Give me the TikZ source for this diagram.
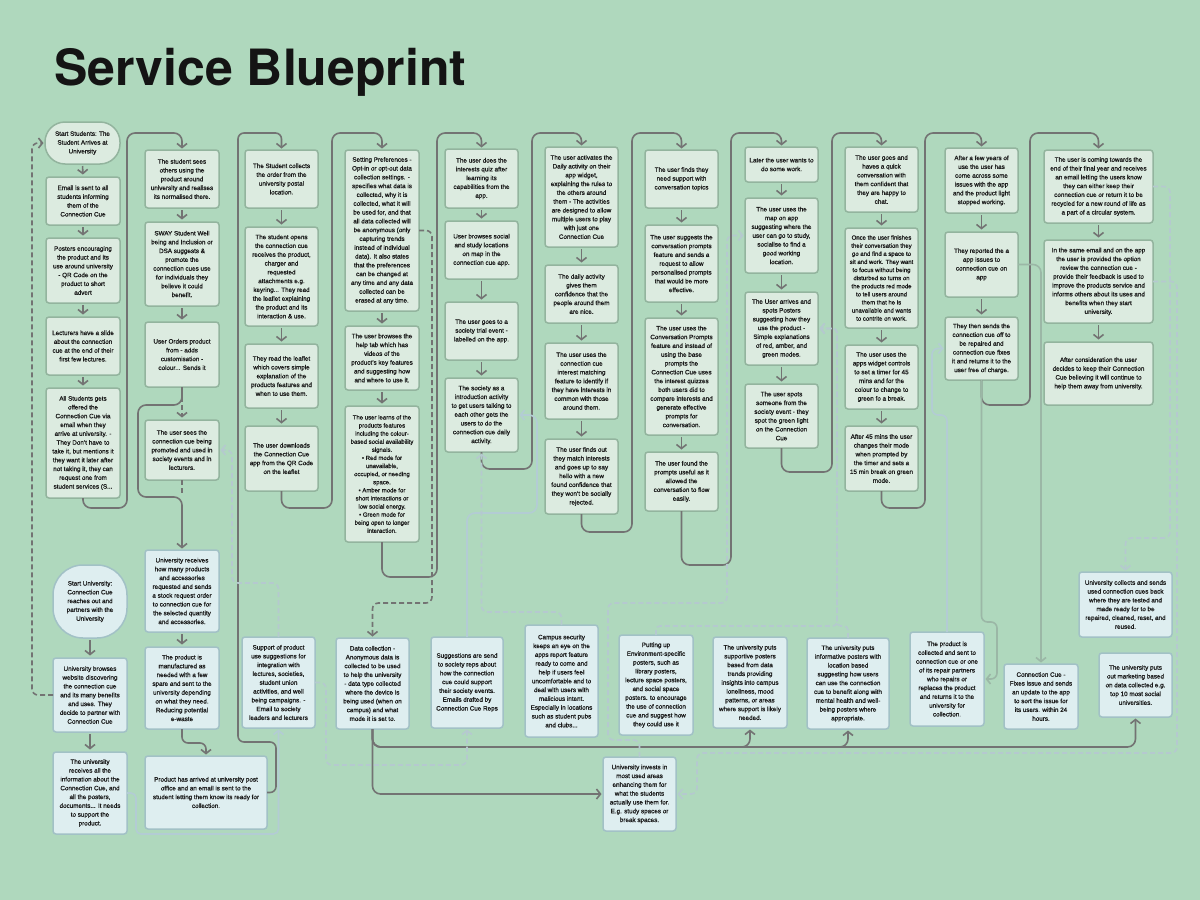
\documentclass[tikz,border=0pt]{standalone}
\usepackage{fontspec}
\setmainfont{Liberation Sans}[FakeBold=1.1]
\newfontfamily\titlefont{TeX Gyre Heros}
\usetikzlibrary{arrows.meta}
\definecolor{bgc}{HTML}{AFD8BD}
\definecolor{gfill}{HTML}{DCEBE0}
\definecolor{gdraw}{HTML}{93B49E}
\definecolor{bfill}{HTML}{DEEEF0}
\definecolor{bdraw}{HTML}{A2C1C6}
\definecolor{arrowc}{HTML}{737373}
\definecolor{ldc}{HTML}{B5C9CF}
\definecolor{lbc}{HTML}{B3CCD4}
\definecolor{mc}{HTML}{9BB7A6}
\definecolor{txt}{HTML}{1C1C1C}
\tikzset{
  gbox/.style={draw=gdraw,fill=gfill,line width=1.5pt,rounded corners=3pt,align=center,
    inner sep=2pt,outer sep=0pt,text=txt,font=\fontsize{6.3}{8.8}\selectfont},
  bbox/.style={gbox,draw=bdraw,fill=bfill},
  tight/.style={font=\fontsize{6}{8.1}\selectfont},
  flow/.style={draw=arrowc,line width=1.6pt,rounded corners=8pt,shorten >=1.5pt,
    -{Straight Barb[length=4pt,width=10pt]}},
  sa/.style={flow,shorten <=2pt,shorten >=2.5pt},
  gdash/.style={flow,dash pattern=on 5pt off 3pt},
  ldash/.style={flow,draw=ldc,dash pattern=on 5pt off 3pt},
  lsolid/.style={flow,draw=lbc},
  msolid/.style={flow,draw=mc},
}
\newcommand\gbx[7][]{\node[gbox,#1,minimum width={(#5-#3)*1pt},minimum height={(#6-#4)*1pt}] (#2) at ({(#3+#5)/2},{(#4+#6)/2}) {#7};}
\newcommand\bbx[7][]{\node[bbox,#1,minimum width={(#5-#3)*1pt},minimum height={(#6-#4)*1pt}] (#2) at ({(#3+#5)/2},{(#4+#6)/2}) {#7};}
\begin{document}
\begin{tikzpicture}[x=1pt,y=-1pt]
\fill[bgc] (0,0) rectangle (1200,900);
\useasboundingbox (0,0) rectangle (1200,900);
\node[anchor=base west,inner sep=0pt,text=black!92,font=\titlefont\bfseries\fontsize{50}{50}\selectfont] (title) at (54,85) {Service Blueprint};

% column 1
\gbx[rounded corners=20pt]{S1}{45}{122}{120}{164}{Start Students: The\\Student Arrives at\\University}
\gbx{E1}{46}{177}{120}{225}{Email is sent to all\\students informing\\them of the\\Connection Cue}
\gbx{P1}{46}{238}{120}{303}{Posters encouraging\\the product and its\\use around university\\- QR Code on the\\product to short\\advert}
\gbx{L1}{46}{317}{120}{375}{Lecturers have a slide\\about the connection\\cue at the end of their\\first few lectures.}
\gbx{A1}{46}{388}{120}{498}{All Students gets\\offered the\\Connection Cue via\\email when they\\arrive at university. -\\They Don't have to\\take it, but mentions it\\they want it later after\\not taking it, they can\\request one from\\student services (S...}

% column 2
\gbx{C2a}{145}{150}{219}{208}{The student sees\\others using the\\product around\\university and realises\\its normalised there.}
\gbx{C2b}{145}{222}{219}{306}{SWAY Student Well\\being and Inclusion or\\DSA suggests \&\\promote the\\connection cues use\\for individuals they\\believe it could\\benefit.}
\gbx{C2c}{145}{322}{219}{387}{User Orders product\\from - adds\\customisation -\\colour... Sends it}
\gbx{C2d}{145}{420}{219}{480}{The user sees the\\connection cue being\\promoted and used in\\society events and in\\lecturers.}
\bbx{U1}{145}{550}{219}{632}{University receives\\how many products\\and accessories\\requested and sends\\a stock request order\\to connection cue for\\the selected quantity\\and accessories.}
\bbx{U2}{145}{647}{219}{729}{The product is\\manufactured as\\needed with a few\\spare and sent to the\\university depending\\on what they need.\\Reducing potential\\e-waste}
\bbx{U3}{145}{756}{267}{829}{Product has arrived at university post\\office and an email is sent to the\\student letting them know its ready for\\collection.}
\bbx[rounded corners=30pt]{SU}{53}{565}{127}{638}{Start University:\\Connection Cue\\reaches out and\\partners with the\\University}
\bbx{U4}{53}{658}{127}{732}{University browses\\website discovering\\the connection cue\\and its many benefits\\and uses. They\\decide to partner with\\Connection Cue}
\bbx{U5}{53}{752}{127}{834}{The university\\receives all the\\information about the\\Connection Cue, and\\all the posters,\\documents... It needs\\to support the\\product.}
\bbx{Sp}{242}{637}{315}{728}{Support of product\\use suggestions for\\integration with\\lectures, societies,\\student union\\activities, and well\\being campaigns. -\\Email to society\\leaders and lecturers}

% column 3
\gbx{C3a}{245}{150}{318}{208}{The Student collects\\the order from the\\university postal\\location.}
\gbx{C3b}{245}{227}{318}{326}{The student opens\\the connection cue\\receives the product,\\charger and\\requested\\attachments e.g.\\keyring... They read\\the leaflet explaining\\the product and its\\interaction \& use.}
\gbx{C3c}{245}{344}{318}{408}{They read the leaflet\\which covers simple\\explanation of the\\products features and\\when to use them.}
\gbx{C3d}{245}{426}{318}{491}{The user downloads\\the Connection Cue\\app from the QR Code\\on the leaflet}

% column 4
\gbx{C4a}{345}{150}{419}{311}{Setting Preferences -\\Opt-in or opt-out data\\collection settings. -\\specifies what data is\\collected, why it is\\collected, what it will\\be used for, and that\\all data collected will\\be anonymous (only\\capturing trends\\instead of individual\\data). It also states\\that the preferences\\can be changed at\\any time and any data\\collected can be\\erased at any time.}
\gbx{C4b}{345}{326}{419}{390}{The user browses the\\help tab which has\\videos of the\\product's key features\\and suggesting how\\and where to use it.}
\gbx[tight]{C4c}{345}{406}{419}{542}{The user learns of the\\products features\\including the colour-\\based social availability\\signals.\\\textbullet\ Red mode for\\unavailable,\\occupied, or needing\\space.\\\textbullet\ Amber mode for\\short interactions or\\low social energy.\\\textbullet\ Green mode for\\being open to longer\\interaction.}
\bbx{D1}{336}{638}{409}{729}{Data collection -\\Anonymous data is\\collected to be used\\to help the university\\- data type collected\\where the device is\\being used (when on\\campus) and what\\mode it is set to.}

% column 5
\gbx{C5a}{445}{149}{518}{208}{The user does the\\interests quiz after\\learning its\\capabilities from the\\app.}
\gbx{C5b}{445}{221}{518}{279}{User browses social\\and study locations\\on map in the\\connection cue app.}
\gbx{C5c}{445}{302}{518}{360}{The user goes to a\\society trial event -\\labelled on the app.}
\gbx{C5d}{445}{378}{518}{452}{The society as a\\introduction activity\\to get users talking to\\each other gets the\\users to do the\\connection cue daily\\activity.}
\bbx{Sg}{431}{637}{503}{728}{Suggestions are send\\to society reps about\\how the connection\\cue could support\\their society events.\\Emails drafted by\\Connection Cue Reps}
\bbx{Cs}{525}{625}{598}{737}{Campus security\\keeps an eye on the\\apps report feature\\ready to come and\\help if users feel\\uncomfortable and to\\deal with users with\\malicious intent.\\Especially in locations\\such as student pubs\\and clubs...}

% column 6
\gbx{C6a}{545}{147}{618}{247}{The user activates the\\Daily activity on their\\app widget,\\explaining the rules to\\the others around\\them - The activities\\are designed to allow\\multiple users to play\\with just one\\Connection Cue}
\gbx{C6b}{545}{265}{618}{323}{The daily activity\\gives them\\confidence that the\\people around them\\are nice.}
\gbx{C6c}{545}{343}{618}{419}{The user uses the\\connection cue\\interest matching\\feature to identify if\\they have interests in\\common with those\\around them.}
\gbx{C6d}{545}{439}{618}{514}{The user finds out\\they match interests\\and goes up to say\\hello with a new\\found confidence that\\they won't be socially\\rejected.}

% column 7
\gbx{C7a}{645}{150}{718}{208}{The user finds they\\need support with\\conversation topics}
\gbx{C7b}{645}{225}{718}{302}{The user suggests the\\conversation prompts\\feature and sends a\\request to allow\\personalised prompts\\that would be more\\effective.}
\gbx{C7c}{645}{318}{718}{435}{The user uses the\\Conversation Prompts\\feature and instead of\\using the base\\prompts the\\Connection Cue uses\\the interest quizzes\\both users did to\\compare interests and\\generate effective\\prompts for\\conversation.}
\gbx{C7d}{645}{452}{718}{511}{The user found the\\prompts useful as it\\allowed the\\conversation to flow\\easily.}

% column 8
\gbx{C8a}{745}{147}{818}{182}{Later the user wants to\\do some work.}
\gbx{C8b}{745}{198}{818}{273}{The user uses the\\map on app\\suggesting where the\\user can go to study,\\socialise to find a\\good working\\location.}
\gbx{C8c}{745}{292}{818}{365}{The User arrives and\\spots Posters\\suggesting how they\\use the product -\\Simple explanations\\of red, amber, and\\green modes.}
\gbx{C8d}{745}{384}{818}{448}{The user spots\\someone from the\\society event - they\\spot the green light\\on the Connection\\Cue}

% column 9
\gbx{C9a}{845}{147}{918}{212}{The user goes and\\haves a quick\\conversation with\\them confident that\\they are happy to\\chat.}
\gbx[tight]{C9b}{845}{228}{918}{328}{Once the user finishes\\their conversation they\\go and find a space to\\sit and work. They want\\to focus without being\\disturbed so turns on\\the products red mode\\to tell users around\\them that he is\\unavailable and wants\\to contrite on work.}
\gbx{C9c}{845}{345}{918}{409}{The user uses the\\apps widget controls\\to set a timer for 45\\mins and for the\\colour to change to\\green fo a break.}
\gbx{C9d}{845}{426}{918}{491}{After 45 mins the user\\changes their mode\\when prompted by\\the timer and sets a\\15 min break on green\\mode.}

% column 10
\gbx{C10a}{945}{148}{1018}{213}{After a few years of\\use the user has\\come across some\\issues with the app\\and the product light\\stopped working.}
\gbx{C10b}{945}{232}{1018}{297}{They reported the a\\app issues to\\connection cue on\\app}
\gbx{C10c}{945}{317}{1018}{380}{They then sends the\\connection cue off to\\be repaired and\\connection cue fixes\\it and returns it to the\\user free of charge.}

% column 11
\gbx{C11a}{1044}{150}{1153}{223}{The user is coming towards the\\end of their final year and receives\\an email letting the users know\\they can either keep their\\connection cue or return it to be\\recycled for a new round of life as\\a part of a circular system.}
\gbx{C11b}{1044}{240}{1153}{323}{In the same email and on the app\\the user is provided the option\\review the connection cue -\\provide their feedback is used to\\improve the products service and\\informs others about its uses and\\benefits when they start\\university.}
\gbx{C11c}{1044}{342}{1153}{405}{After consideration the user\\decides to keep their Connection\\Cue believing it will continue to\\help them away from university.}

% lower blue row
\bbx{B1}{619}{635}{693}{735}{Putting up\\Environment-specific\\posters, such as\\library posters,\\lecture space posters,\\and social space\\posters. to encourage\\the use of connection\\cue and suggest how\\they could use it}
\bbx{B2}{713}{637}{787}{728}{The university puts\\supportive posters\\based from data\\trends providing\\insights into campus\\loneliness, mood\\patterns, or areas\\where support is likely\\needed.}
\bbx{B3}{807}{638}{889}{729}{The university puts\\informative posters with\\location based\\suggesting how users\\can use the connection\\cue to benefit along with\\mental health and well-\\being posters where\\appropriate.}
\bbx{B4}{603}{757}{676}{831}{University invests in\\most used areas\\enhancing them for\\what the students\\actually use them for.\\E.g. study spaces or\\break spaces.}
\bbx{B5}{910}{632}{984}{726}{The product is\\collected and sent to\\connection cue or one\\of its repair partners\\who repairs or\\replaces the product\\and returns it to the\\university for\\collection.}
\bbx{B6}{1004}{664}{1078}{729}{Connection Cue -\\Fixes issue and sends\\an update to the app\\to sort the issue for\\its users. within 24\\hours.}
\bbx{B7}{1079}{572}{1172}{637}{University collects and sends\\used connection cues back\\where they are tested and\\made ready for to be\\repaired, cleaned, reset, and\\reused.}
\bbx{B8}{1099}{653}{1172}{717}{The university puts\\out marketing based\\on data collected e.g.\\top 10 most social\\universities.}

% short arrows within columns
\foreach \a/\b in {S1/E1,E1/P1,P1/L1,L1/A1,C2a/C2b,C2b/C2c,U1/U2,SU/U4,U4/U5,
  C3a/C3b,C3b/C3c,C3c/C3d,C4a/C4b,C4b/C4c,C5a/C5b,C5b/C5c,C5c/C5d,
  C6a/C6b,C6b/C6c,C6c/C6d,C7a/C7b,C7b/C7c,C7c/C7d,C8a/C8b,C8b/C8c,C8c/C8d,
  C9a/C9b,C9b/C9c,C9c/C9d,C10a/C10b,C10b/C10c,C11a/C11b,C11b/C11c}
  \draw[sa] (\a.south) -- (\b.north);

% main flow between columns
\draw[flow] (A1.south) -- (83,508) -- (127,508) -- (127,133) -- (182,133) -- (C2a.north);
\draw[flow] (C2c.south) -- (182,405) -- (138,405) -- (138,497) -- (182,497) -- (U1.north);
\draw[gdash,shorten <=2pt,shorten >=2.5pt] (C2c.south) -- (C2d.north);
\coordinate (j2) at (182,497);
\draw[gdash,-] (C2d.south) -- (j2);
\draw[flow,rounded corners=6pt] (U2.south) -- (182,743) -- (206,743) -- (U3.north);
\draw[flow,rounded corners=6pt] (U3.east) -- (276,792.5) -- (276,742) -- (238,742) -- (238,133) -- (281.5,133) -- (C3a.north);
\draw[flow] (C3d.south) -- (281.5,508) -- (332,508) -- (332,133) -- (382,133) -- (C4a.north);
\draw[flow] (C4c.south) -- (382,577) -- (437,577) -- (437,133) -- (481.5,133) -- (C5a.north);
\draw[flow] (C5d.south) -- (481.5,469) -- (532,469) -- (532,133) -- (581.5,133) -- (C6a.north);
\draw[flow] (C6d.south) -- (581.5,532) -- (632,532) -- (632,133) -- (681.5,133) -- (C7a.north);
\draw[flow] (C7d.south) -- (681.5,565) -- (731,565) -- (731,133) -- (781.5,133) -- (C8a.north);
\draw[flow] (C8d.south) -- (781.5,472) -- (832,472) -- (832,133) -- (881.5,133) -- (C9a.north);
\draw[flow] (C9d.south) -- (881.5,508) -- (925,508) -- (925,133) -- (981.5,133) -- (C10a.north);
\draw[flow] (C10c.south) -- (981.5,405) -- (1030,405) -- (1030,133) -- (1098.5,133) -- (C11a.north);

% data collection
\draw[flow] (D1.south) -- (372.5,747) -- (750,747) -- (B2.south);
\draw[flow] (D1.south) -- (372.5,747) -- (848,747) -- (B3.south);
\draw[flow] (D1.south) -- (372.5,747) -- (1135.5,747) -- (B8.south);
\draw[flow] (D1.south) -- (372.5,794) -- (B4.west);

% light solid
\draw[lsolid,rounded corners=5pt] (U5.east) -- (136,793) -- (136,834) -- (278.5,834) -- (Sp.south);
\draw[lsolid] (Sg.north) -- (467,513) -- (537,513) -- (537,415) -- (C5d.east);
\draw[lsolid,rounded corners=6pt] (B5.north) -- (947,415) -- (932,415) -- (932,348.5) -- (C10c.west);

% muted solid
\draw[msolid] (C10b.east) -- (1041,264.5) -- (B6.north);
\draw[msolid,rounded corners=6pt] (C10c.south) -- (981.5,622) -- (997,622) -- (997,679) -- (B5.east);

% dashed
\draw[gdash,rounded corners=6pt] (U4.west) -- (32,695) -- (32,143) -- (S1.west);
\draw[gdash,rounded corners=6pt] (C4a.east) -- (432,230.5) -- (432,603) -- (372.5,603) -- (D1.north);
\draw[ldash,rounded corners=6pt] (Sp.north) -- (278.5,583) -- (232,583) -- (232,450) -- (C2d.east);
\draw[ldash,rounded corners=6pt] (Sp.east) -- (326,682.5) -- (326,765) -- (467,765) -- (Sg.south);
\draw[ldash,rounded corners=6pt] (Cs.north) -- (561.5,612) -- (481.5,612) -- (C5d.south);
\draw[ldash,rounded corners=6pt] (B4.north) -- (639.5,740) -- (608,740) -- (608,603) -- (727,603) -- (727,235.5) -- (C8b.west);
\draw[ldash,rounded corners=4pt] (B1.north) -- (656,626) -- (837,626) -- (837,328.5) -- (C8c.east);
\draw[ldash,rounded corners=4pt] (B3.north) -- (848,626) -- (837,626) -- (837,328.5) -- (C8c.east);
\draw[ldash,rounded corners=6pt] (C11a.east) -- (1170,186.5) -- (1170,538) -- (1125.5,538) -- (B7.north);
\draw[ldash,rounded corners=6pt] (C11b.east) -- (1177,281.5) -- (1177,753) -- (697,753) -- (697,794) -- (B4.east);
\end{tikzpicture}
\end{document}
